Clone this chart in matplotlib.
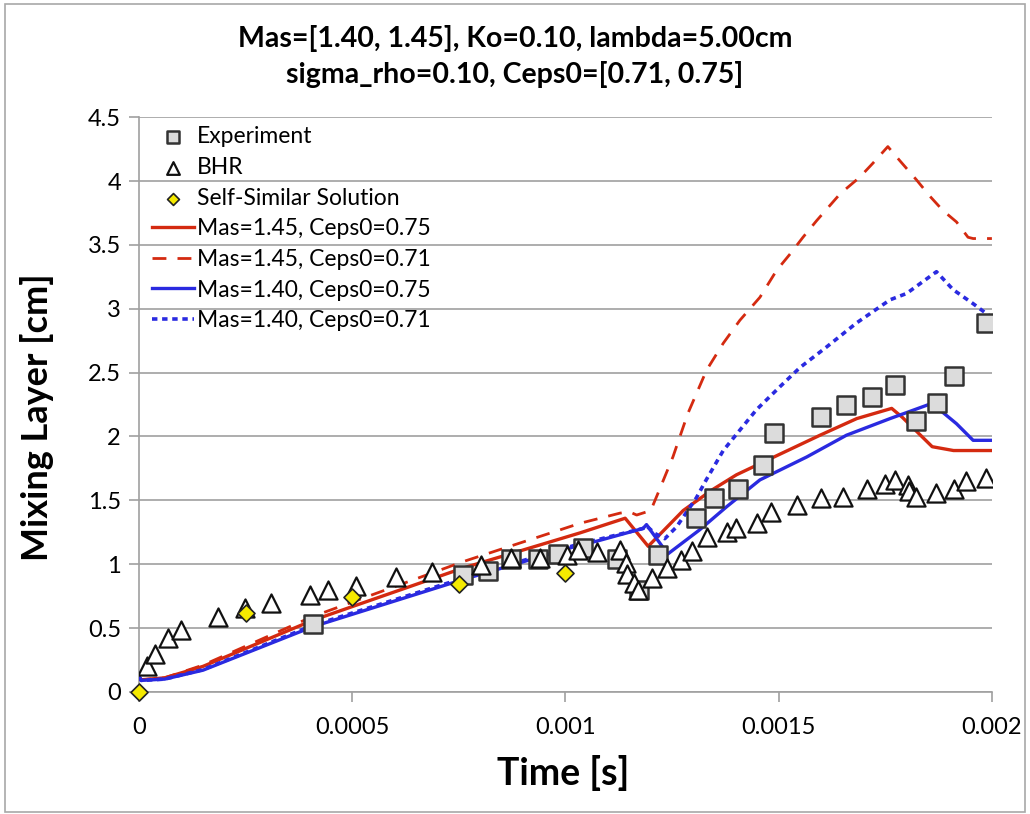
import matplotlib
matplotlib.use("Agg")
import matplotlib.pyplot as plt
from matplotlib.patches import Rectangle
from matplotlib.ticker import FixedLocator

plt.rcParams["font.family"] = ["Lato", "DejaVu Sans"]

# ----------------------------------------------------------
# data
# ----------------------------------------------------------
exp_t = [0.000407, 0.00076, 0.000818, 0.000872, 0.000936, 0.000983,
         0.00104, 0.00112, 0.001172, 0.001217, 0.001306, 0.001348, 0.001404,
         0.001463, 0.001489, 0.0016, 0.001658, 0.001718, 0.001773, 0.001822,
         0.001871, 0.001911, 0.001986]
exp_h = [0.53, 0.915, 0.947, 1.04, 1.04, 1.08,
         1.13, 1.04, 0.80, 1.07, 1.36, 1.52, 1.59,
         1.78, 2.03, 2.15, 2.25, 2.31, 2.40, 2.12,
         2.26, 2.47, 2.89]

bhr_t = [0.000018, 0.0000375, 0.0000673, 0.0000977, 0.000185, 0.000249,
         0.000309, 0.000401, 0.000442, 0.000509, 0.000602, 0.000686, 0.000802,
         0.000872, 0.00094, 0.001003, 0.00103, 0.001074, 0.001128, 0.001142,
         0.001144, 0.00116, 0.00117, 0.001202, 0.001237, 0.00127, 0.001296,
         0.001331, 0.001378, 0.001399, 0.00145, 0.001483, 0.001543, 0.0016,
         0.00165, 0.001706, 0.00175, 0.001773, 0.001803, 0.001806, 0.001822,
         0.00187, 0.001911, 0.001939, 0.001986]
bhr_h = [0.20, 0.30, 0.42, 0.485, 0.59, 0.66,
         0.70, 0.76, 0.80, 0.83, 0.90, 0.94, 0.995,
         1.05, 1.05, 1.07, 1.11, 1.095, 1.11, 1.01,
         0.92, 0.85, 0.80, 0.89, 0.97, 1.03, 1.10,
         1.21, 1.25, 1.28, 1.32, 1.41, 1.46, 1.52,
         1.53, 1.59, 1.63, 1.66, 1.62, 1.57, 1.53,
         1.56, 1.59, 1.65, 1.675]

ss_t = [0.0, 0.00025, 0.0005, 0.00075, 0.001]
ss_h = [0.0, 0.62, 0.745, 0.845, 0.93]

r75_t = [0.0, 0.000005, 0.00006, 0.00015, 0.000407, 0.00076, 0.001034,
         0.00114, 0.001194, 0.001276, 0.001343, 0.001401, 0.001483, 0.001597,
         0.001683, 0.001765, 0.00179, 0.00186, 0.00191, 0.002]
r75_h = [0.12, 0.095, 0.11, 0.20, 0.56, 0.97, 1.245,
         1.36, 1.14, 1.42, 1.58, 1.70, 1.83, 2.01,
         2.14, 2.22, 2.15, 1.92, 1.89, 1.89]

r71_t = [0.0, 0.000005, 0.00006, 0.00015, 0.000407, 0.00076, 0.001034,
         0.001128, 0.00115, 0.001167, 0.0012, 0.00122, 0.001252, 0.001287,
         0.001331, 0.00137, 0.001409, 0.001456, 0.001495, 0.001527, 0.001557,
         0.001589, 0.001644, 0.00169, 0.001721, 0.001756, 0.001784, 0.001823,
         0.001855, 0.001885, 0.001917, 0.001944, 0.001956, 0.002]
r71_h = [0.12, 0.095, 0.11, 0.21, 0.59, 1.02, 1.32,
         1.40, 1.41, 1.385, 1.42, 1.58, 1.84, 2.18,
         2.52, 2.73, 2.91, 3.09, 3.30, 3.43, 3.56,
         3.69, 3.90, 4.03, 4.14, 4.27, 4.16, 4.01,
         3.88, 3.77, 3.68, 3.56, 3.55, 3.55]

b75_t = [0.0, 0.000005, 0.00006, 0.00015, 0.000407, 0.00076, 0.001034,
         0.001073, 0.001182, 0.00119, 0.001205, 0.00124, 0.001315, 0.001378,
         0.001456, 0.001566, 0.001659, 0.001761, 0.00186, 0.00187, 0.001917,
         0.001956, 0.002]
b75_h = [0.12, 0.09, 0.10, 0.17, 0.51, 0.88, 1.15,
         1.18, 1.28, 1.31, 1.24, 1.08, 1.27, 1.45,
         1.66, 1.84, 2.01, 2.14, 2.26, 2.23, 2.10,
         1.97, 1.97]

b71_t = [0.0, 0.000005, 0.00006, 0.00015, 0.000407, 0.00076, 0.001034,
         0.001073, 0.001182, 0.00119, 0.00121, 0.001233, 0.00126, 0.001307,
         0.00133, 0.00137, 0.001409, 0.001448, 0.001503, 0.00155, 0.001612,
         0.001683, 0.001761, 0.0018, 0.00187, 0.001909, 0.001956, 0.002]
b71_h = [0.12, 0.09, 0.10, 0.175, 0.52, 0.89, 1.16,
         1.19, 1.28, 1.30, 1.24, 1.20, 1.29, 1.52,
         1.66, 1.89, 2.05, 2.21, 2.39, 2.54, 2.70,
         2.89, 3.07, 3.12, 3.29, 3.15, 3.04, 2.93]

x_ticks = [0, 0.0005, 0.001, 0.0015, 0.002]
x_tick_labels = ["0", "0.0005", "0.001", "0.0015", "0.002"]
y_ticks = [0, 0.5, 1, 1.5, 2, 2.5, 3, 3.5, 4, 4.5]
y_tick_labels = ["0", "0.5", "1", "1.5", "2", "2.5", "3", "3.5", "4", "4.5"]

# ----------------------------------------------------------
# figure
# ----------------------------------------------------------
fig = plt.figure(figsize=(10.3, 8.14), dpi=100)
fig.patches.append(Rectangle((0.005, 0.003), 0.99, 0.992, transform=fig.transFigure,
                             fill=False, edgecolor="#a8a8a8", linewidth=1.2))

ax = fig.add_axes([0.135, 0.150, 0.828, 0.706])

red = "#d42a10"
blue = "#2a2ae0"

ax.plot(r75_t, r75_h, color=red, lw=2.4, label="Mas=1.45, Ceps0=0.75", zorder=3)
ax.plot(r71_t, r71_h, color=red, lw=2.0, ls=(0, (5, 4)), label="Mas=1.45, Ceps0=0.71", zorder=3)
ax.plot(b75_t, b75_h, color=blue, lw=2.4, label="Mas=1.40, Ceps0=0.75", zorder=3)
ax.plot(b71_t, b71_h, color=blue, lw=2.6, ls=(0, (1.5, 1.3)), label="Mas=1.40, Ceps0=0.71", zorder=3)

ax.scatter(exp_t, exp_h, marker="s", s=175, facecolor="#dcdcdc", edgecolor="#333333",
           linewidths=1.8, label="Experiment", zorder=4)
ax.scatter(bhr_t, bhr_h, marker="^", s=170, facecolor="white", edgecolor="#111111",
           linewidths=1.6, label="BHR", zorder=5)
ax.scatter(ss_t, ss_h, marker="D", s=75, facecolor="#f5ea00", edgecolor="#222222",
           linewidths=1.2, label="Self-Similar Solution", zorder=6, clip_on=False)

ax.set_xlim(0, 0.002)
ax.set_ylim(0, 4.5)
ax.xaxis.set_major_locator(FixedLocator(x_ticks))
ax.set_xticklabels(x_tick_labels)
ax.yaxis.set_major_locator(FixedLocator(y_ticks))
ax.set_yticklabels(y_tick_labels)

ax.grid(axis="y", color="#a0a0a0", lw=1.2)
ax.set_axisbelow(True)
for s in ["top", "right"]:
    ax.spines[s].set_visible(False)
for s in ["left", "bottom"]:
    ax.spines[s].set_color("#a0a0a0")
    ax.spines[s].set_linewidth(1.2)
ax.tick_params(axis="both", colors="#a0a0a0", labelcolor="black", labelsize=17,
               length=7, width=1.2)
ax.tick_params(axis="x", pad=11)
ax.tick_params(axis="y", pad=6)

ax.set_xlabel("Time [s]", fontsize=27, fontweight="bold")
ax.set_ylabel("Mixing Layer [cm]", fontsize=26, fontweight="bold")
ax.xaxis.set_label_coords(0.497, -0.110)
ax.yaxis.set_label_coords(-0.100, 0.478)

fig.text(0.5, 0.953, "Mas=[1.40, 1.45], Ko=0.10, lambda=5.00cm", ha="center", va="center",
         fontsize=20.5, fontweight="bold")
fig.text(0.5, 0.908, "sigma_rho=0.10, Ceps0=[0.71, 0.75]", ha="center", va="center",
         fontsize=20.5, fontweight="bold")

h, l = ax.get_legend_handles_labels()
order = [4, 5, 6, 0, 1, 2, 3]
leg = ax.legend([h[i] for i in order], [l[i] for i in order], loc="upper left",
                bbox_to_anchor=(0.005, 1.0), frameon=False, fontsize=16.5,
                handlelength=1.8, handletextpad=0.15, labelspacing=0.42,
                borderaxespad=0.0, markerscale=0.7)

fig.savefig("out.png", dpi=100)
